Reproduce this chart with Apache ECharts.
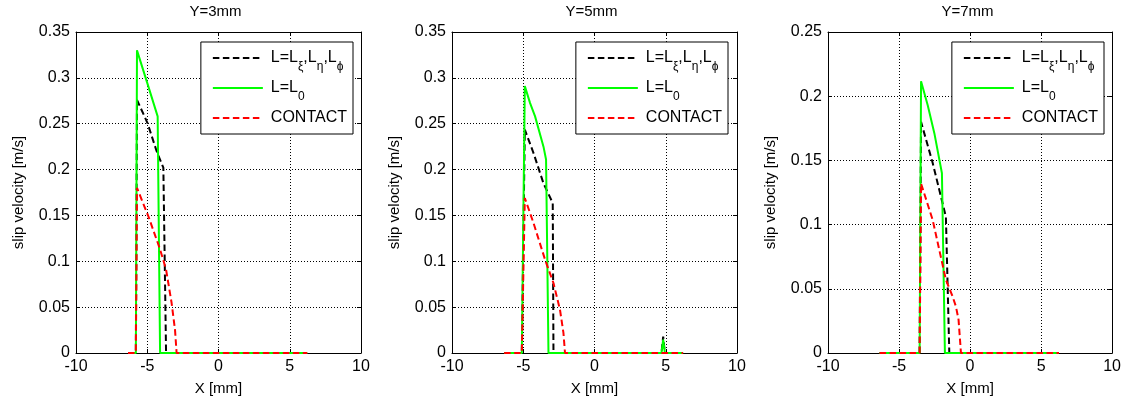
<!DOCTYPE html>
<html>
<head>
<meta charset="utf-8">
<script src="https://cdn.jsdelivr.net/npm/echarts@6/dist/echarts.min.js"></script>
<style>
html,body{margin:0;padding:0;background:#fff;}
#chart{width:1124px;height:404px;}
</style>
</head>
<body>
<div id="chart"></div>
<script>
// ---- data ----
const titles = ['Y=3mm', 'Y=5mm', 'Y=7mm'];
const seriesNames = ['L=Lξ,Lη,Lϕ', 'L=L0', 'CONTACT'];
const xMin = -10, xMax = 10, xStep = 5;
const yMaxes = [0.35, 0.35, 0.25];
const yStep = 0.05;

// Y = 3 mm
const y3_Lxi = [[-6.3,0],[-5.8,0],[-5.72,0.276],[-4.99,0.251],[-4.34,0.22],[-3.87,0.202],[-3.68,0],[6.23,0]];
const y3_L0 = [[-6.3,0],[-5.8,0],[-5.72,0.33],[-4.99,0.294],[-4.27,0.258],[-4.1,0],[6.23,0]];
const y3_contact = [[-6.35,0],[-5.8,0],[-5.72,0.18],[-4.92,0.149],[-4.1,0.113],[-3.68,0.091],[-3.29,0.0545],[-3.05,0.025],[-2.94,0],[6.23,0]];

// Y = 5 mm
const y5_Lxi = [[-6.34,0],[-5.1,0],[-4.89,0.2435],[-4.28,0.218],[-3.58,0.185],[-2.93,0.1635],[-2.88,0],[4.7,0],[4.82,0.018],[4.94,0],[6.22,0]];
const y5_L0 = [[-6.34,0],[-5.1,0],[-4.89,0.291],[-4.52,0.2725],[-4.17,0.258],[-3.58,0.225],[-3.4,0.211],[-3.23,0],[4.7,0],[4.82,0.0145],[4.94,0],[6.22,0]];
const y5_contact = [[-6.34,0],[-5.1,0],[-4.89,0.169],[-4.28,0.1417],[-3.47,0.1018],[-2.88,0.0763],[-2.42,0.047],[-2.18,0.022],[-2.07,0],[6.22,0]];

// Y = 7 mm
const y7_Lxi = [[-6.37,0],[-3.55,0],[-3.45,0.18],[-2.63,0.148],[-1.7,0.106],[-1.46,0],[6.26,0]];
const y7_L0 = [[-6.37,0],[-3.55,0],[-3.45,0.2116],[-2.98,0.193],[-2.51,0.171],[-1.98,0.14],[-1.77,0],[6.26,0]];
const y7_contact = [[-6.37,0],[-3.55,0],[-3.45,0.132],[-2.63,0.1036],[-1.7,0.057],[-1.23,0.044],[-0.99,0.036],[-0.81,0.026],[-0.64,0],[6.26,0]];

const panels = [
  [y3_Lxi, y3_L0, y3_contact],
  [y5_Lxi, y5_L0, y5_contact],
  [y7_Lxi, y7_L0, y7_contact]
];

// ---- layout / style ----
const FONT = '"Liberation Sans", Arial, Helvetica, sans-serif';
const gridLefts = [76, 452, 828];
const gridTop = 32, gridW = 285, gridH = 321;
const legendRights = [771, 396, 20];
const colors = ['#000000', '#00ff00', '#ff0000'];
const lineTypes = [[6.5, 3.5], 'solid', [6.5, 3.5]];

const richLabels = {
  'L=Lξ,Lη,Lϕ': '{f|L=L}{s|ξ}{n|,L}{s|η}{n|,L}{s|ϕ}',
  'L=L0': '{f|L=L}{s|0}',
  'CONTACT': '{c|CONTACT}'
};

const grid = [], xAxis = [], yAxis = [], series = [], title = [], legend = [];
const axisLineStyle = { show: true, onZero: false, lineStyle: { color: '#000', width: 1 } };
const tickStyle = { show: true, inside: true, length: 4, lineStyle: { color: '#000', width: 1 } };
const labelStyle = { color: '#000', fontSize: 16, fontFamily: FONT };
const splitStyle = { show: true, lineStyle: { color: '#000', width: 1, type: [1, 2] } };

for (let i = 0; i < 3; i++) {
  grid.push({ left: gridLefts[i], top: gridTop, width: gridW, height: gridH, containLabel: false });
  title.push({
    text: titles[i], left: gridLefts[i] + gridW / 2 - 3, top: 4, textAlign: 'center', padding: 0,
    textStyle: { color: '#000', fontSize: 15, fontWeight: 'normal', fontFamily: FONT }
  });
  xAxis.push({
    gridIndex: i, type: 'value', min: xMin, max: xMax, interval: xStep, position: 'bottom',
    axisLine: axisLineStyle, axisTick: tickStyle,
    axisLabel: Object.assign({ margin: 6 }, labelStyle),
    splitLine: splitStyle,
    name: 'X [mm]', nameLocation: 'middle', nameGap: 28,
    nameTextStyle: { color: '#000', fontSize: 15, fontFamily: FONT }
  });
  xAxis.push({
    gridIndex: i, type: 'value', min: xMin, max: xMax, interval: xStep, position: 'top',
    axisLine: axisLineStyle, axisTick: tickStyle, axisLabel: { show: false }, splitLine: { show: false }
  });
  yAxis.push({
    gridIndex: i, type: 'value', min: 0, max: yMaxes[i], interval: yStep, position: 'left',
    axisLine: axisLineStyle, axisTick: tickStyle,
    axisLabel: Object.assign({ margin: 6 }, labelStyle),
    splitLine: splitStyle,
    name: 'slip velocity [m/s]', nameLocation: 'middle', nameGap: 50,
    nameTextStyle: { color: '#000', fontSize: 15, fontFamily: FONT }
  });
  yAxis.push({
    gridIndex: i, type: 'value', min: 0, max: yMaxes[i], interval: yStep, position: 'right',
    axisLine: axisLineStyle, axisTick: tickStyle, axisLabel: { show: false }, splitLine: { show: false }
  });
  for (let k = 0; k < 3; k++) {
    series.push({
      type: 'line', name: seriesNames[k], xAxisIndex: 2 * i, yAxisIndex: 2 * i,
      data: panels[i][k], showSymbol: false, symbol: 'none', smooth: false,
      lineStyle: { color: colors[k], width: 2, type: lineTypes[k], cap: 'butt' },
      itemStyle: { color: colors[k] }, z: 2 + k, silent: true
    });
  }
  legend.push({
    orient: 'vertical', right: legendRights[i], top: 42, data: seriesNames,
    itemWidth: 50, itemHeight: 14, itemGap: 0, padding: [1, 6, 1, 11],
    borderColor: '#000', borderWidth: 1, backgroundColor: '#fff', borderRadius: 0,
    selectedMode: false,
    itemStyle: { opacity: 0 },
    formatter: function (name) { return richLabels[name]; },
    textStyle: {
      color: '#000', fontSize: 16, fontFamily: FONT,
      rich: {
        f: { fontSize: 16, lineHeight: 16, padding: [0, 0, 0, 3], color: '#000', fontFamily: FONT },
        n: { fontSize: 16, lineHeight: 16, color: '#000', fontFamily: FONT },
        s: { fontSize: 12, lineHeight: 12, padding: [18, 0, 0, 0], color: '#000', fontFamily: FONT },
        c: { fontSize: 16, lineHeight: 16, padding: [7, 0, 7, 3], color: '#000', fontFamily: FONT }
      }
    }
  });
}

const chart = echarts.init(document.getElementById('chart'), null, { renderer: 'canvas' });
chart.setOption({
  backgroundColor: '#fff',
  animation: false,
  title, grid, xAxis, yAxis, legend, series
});
</script>
</body>
</html>
